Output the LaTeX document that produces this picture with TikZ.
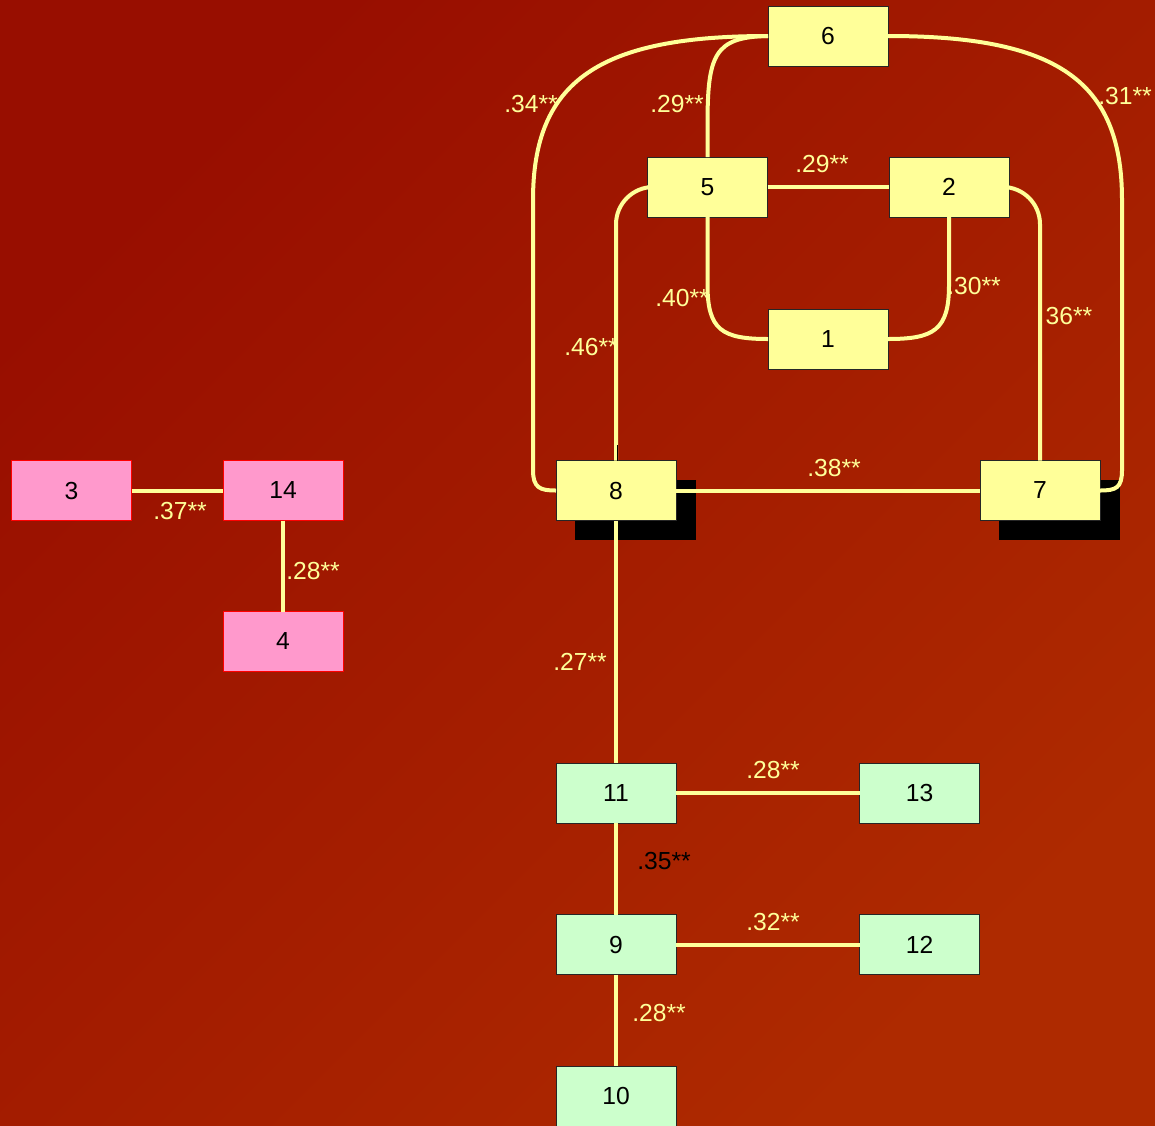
\documentclass[tikz,border=0pt]{standalone}
\usepackage{fontspec}
\setmainfont{Liberation Sans}
\definecolor{bgA}{RGB}{152,14,0}
\definecolor{bgB}{RGB}{174,42,0}
\definecolor{lineY}{RGB}{255,255,153}
\definecolor{boxY}{RGB}{255,255,153}
\definecolor{boxP}{RGB}{255,153,204}
\definecolor{boxG}{RGB}{204,255,204}
\begin{document}
\begin{tikzpicture}[x=0.75pt,y=-0.75pt,
 box/.style={draw=black!85, line width=0.6pt, minimum width=90pt, minimum height=45pt, inner sep=0pt, outer sep=0pt, font=\fontsize{18.5}{20}\selectfont, text=black},
 ybox/.style={box, fill=boxY},
 pbox/.style={box, fill=boxP, draw=red},
 gbox/.style={box, fill=boxG},
 shadowbox/.style={fill=black, minimum width=90.75pt, minimum height=45pt, inner sep=0pt, outer sep=0pt},
 link/.style={draw=lineY, line width=3pt},
 lab/.style={text=lineY, font=\fontsize{18.5}{20}\selectfont, inner sep=0pt},
]
\shade[top color=bgA, bottom color=bgB, shading angle=45] (0,0) rectangle (1155,1125);
\useasboundingbox (0,0) rectangle (1155,1125);
\clip (0,0) rectangle (1155,1125);

% shadows
\node[shadowbox] (s8) at (635.5,510) {};
\node[shadowbox] (s7) at (1059.5,510) {};

% nodes
\node[ybox] (n6) at (828,36) {6};
\node[ybox] (n5) at (707.5,187) {5};
\node[ybox] (n2) at (949,187) {2};
\node[ybox] (n1) at (828,339) {1};
\node[ybox] (n8) at (616,490.5) {8};
\node[ybox] (n7) at (1040,490.5) {7};
\node[pbox] (n3) at (71.5,490.5) {3};
\node[pbox] (n14) at (283,490.5) {14};
\node[pbox] (n4) at (283,641.5) {4};
\node[gbox] (n11) at (616,793) {11};
\node[gbox] (n13) at (919.5,793) {13};
\node[gbox] (n9) at (616,944.5) {9};
\node[gbox] (n12) at (919.5,944.5) {12};
\node[gbox] (n10) at (616,1096) {10};

% connectors
\draw[link] (n6.west) .. controls (600,36) and (533,80) .. (533,200) -- (533,470) .. controls (533,488) and (540,490.5) .. (n8.west);
\draw[link] (n6.east) .. controls (1056,36) and (1122,80) .. (1122,200) -- (1122,470) .. controls (1122,488) and (1116,490.5) .. (n7.east);
\draw[link] (n6.west) .. controls (714,37) and (707.5,55) .. (707.5,125) -- (n5.north);
\draw[link] (n5.east) -- (n2.west);
\draw[link, rounded corners=28] (n5.west) -| (n8.north);
\draw[link, rounded corners=28] (n2.east) -| (n7.north);
\draw[link] (n5.south) -- (707.5,285) .. controls (707.5,330) and (722,339) .. (n1.west);
\draw[link] (n2.south) -- (949,285) .. controls (949,330) and (934,339) .. (n1.east);
\draw[link] (n8.east) -- (n7.west);
\draw[link] (n8.south) -- (n11.north);
\draw[link] (n11.east) -- (n13.west);
\draw[link] (n11.south) -- (n9.north);
\draw[link] (n9.east) -- (n12.west);
\draw[link] (n9.south) -- (n10.north);
\draw[link] (n3.east) -- (n14.west);
\draw[link] (n14.south) -- (n4.north);
\coordinate (tickA) at (617,445);
\draw[black, line width=0.6pt] (tickA) -- (n8.north -| tickA);

% labels
\node[lab] (l34) at (531,104) {.34**};
\node[lab] (l29a) at (677,104) {.29**};
\node[lab] (l31) at (1125,96) {.31**};
\node[lab] (l29b) at (822,164) {.29**};
\node[lab] (l40) at (682,298) {.40**};
\node[lab] (l30) at (974,286) {.30**};
\node[lab] (l36) at (1069,316) {36**};
\node[lab] (l46) at (591,347) {.46**};
\node[lab] (l38) at (834,468) {.38**};
\node[lab] (l37) at (180,511) {.37**};
\node[lab] (l28a) at (313,571) {.28**};
\node[lab] (l27) at (580,662) {.27**};
\node[lab] (l28b) at (773,770) {.28**};
\node[lab, text=black] (l35) at (664,861) {.35**};
\node[lab] (l32) at (773,922) {.32**};
\node[lab] (l28c) at (659,1013) {.28**};
\end{tikzpicture}
\end{document}
